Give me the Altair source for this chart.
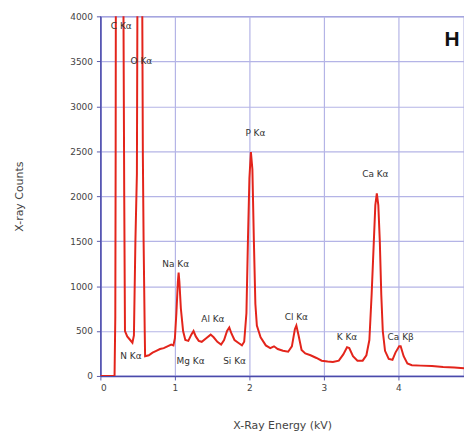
import altair as alt
import pandas as pd

# Spectrum trace (energy in kV, counts)
energy = [0.0, 0.18, 0.19, 0.2, 0.205, 0.21, 0.24, 0.30, 0.32, 0.33, 0.36, 0.40, 0.43, 0.45, 0.47,
          0.49, 0.50, 0.53, 0.56, 0.57, 0.58, 0.595, 0.6, 0.65, 0.7, 0.75, 0.8, 0.85, 0.9, 0.95,
          0.98, 1.0, 1.02, 1.04, 1.05, 1.06, 1.08, 1.11, 1.14, 1.18, 1.22, 1.25, 1.28, 1.32, 1.36,
          1.42, 1.48, 1.52, 1.57, 1.62, 1.66, 1.70, 1.73, 1.76, 1.80, 1.85, 1.9, 1.93, 1.96, 1.98,
          2.0, 2.02, 2.04, 2.06, 2.08, 2.1, 2.15, 2.22, 2.28, 2.33, 2.38, 2.45, 2.52, 2.57, 2.61,
          2.63, 2.66, 2.70, 2.75, 2.82, 2.9, 2.97, 3.05, 3.12, 3.2, 3.26, 3.31, 3.34, 3.39, 3.45,
          3.52, 3.57, 3.61, 3.64, 3.67, 3.69, 3.71, 3.73, 3.75, 3.77, 3.79, 3.82, 3.87, 3.92, 3.96,
          4.01, 4.03, 4.07, 4.12, 4.18, 4.3, 4.45, 4.6, 4.75, 4.88]
counts = [0, 0, 0, 650, 2500, 6000, 9000, 6000, 2000, 500, 440, 400, 370, 450, 1500,
          2250, 5000, 9000, 4500, 2450, 1500, 500, 220, 230, 260, 280, 300, 310, 330, 350,
          340, 420, 700, 1050, 1150, 1050, 750, 500, 400, 390, 460, 500, 440, 390, 380,
          420, 460, 430, 380, 350, 400, 500, 540, 470, 400, 370, 340, 380, 700, 1500,
          2200, 2490, 2300, 1500, 800, 560, 430, 340, 310, 330, 300, 280, 270, 330, 520,
          560, 450, 290, 250, 230, 200, 170, 160, 155, 170, 240, 320, 310, 220, 170,
          170, 230, 400, 900, 1500, 1900, 2030, 1900, 1500, 900, 500, 280, 190, 180, 260,
          330, 330, 220, 140, 120, 115, 110, 100, 95, 85]

# Peak labels
label_text = ["C Kα", "O Kα", "P Kα", "Ca Kα", "Na Kα", "Al Kα", "N Kα", "Mg Kα",
              "Si Kα", "Cl Kα", "K Kα", "Ca Kβ"]
label_x = [0.28, 0.55, 2.08, 3.69, 1.01, 1.51, 0.41, 1.21, 1.80, 2.63, 3.31, 4.03]
label_y = [3890, 3500, 2700, 2250, 1240, 630, 220, 165, 165, 660, 430, 430]

panel_letter = ["H"]
panel_x = [4.72]
panel_y = [3740]

spec = pd.DataFrame({"energy": energy, "counts": counts})
labels = pd.DataFrame({"text": label_text, "x": label_x, "y": label_y})
panel = pd.DataFrame({"text": panel_letter, "x": panel_x, "y": panel_y})

xscale = alt.Scale(domain=[0, 4.88], nice=False, zero=False)
yscale = alt.Scale(domain=[0, 4000], nice=False)

line = alt.Chart(spec).mark_line(color="#e3241b", strokeWidth=2, clip=True).encode(
    x=alt.X("energy:Q", scale=xscale,
            axis=alt.Axis(title="X-Ray Energy (kV)", values=[0, 1, 2, 3, 4], format="d",
                          titleY=50, titleBaseline="middle", titleX=183)),
    y=alt.Y("counts:Q", scale=yscale,
            axis=alt.Axis(title="X-ray Counts", values=list(range(0, 4001, 500)), format="d",
                          titleX=-81, titleY=181, titleBaseline="middle")),
)

txt = alt.Chart(labels).mark_text(fontSize=9, color="#333333", font="DejaVu Sans").encode(
    x=alt.X("x:Q", scale=xscale), y=alt.Y("y:Q", scale=yscale), text="text:N"
)

letter = alt.Chart(panel).mark_text(fontSize=21, fontWeight="bold", color="#111111",
                                    font="Liberation Sans").encode(
    x=alt.X("x:Q", scale=xscale), y=alt.Y("y:Q", scale=yscale), text="text:N"
)

chart = alt.layer(line, txt, letter).properties(
    width=366, height=362,
    autosize=alt.AutoSizeParams(type="none"),
    padding={"left": 93, "top": 7, "right": 0, "bottom": 54},
).configure_view(stroke="#7a7acc", strokeWidth=1.2).configure_axis(
    gridColor="#b4b4e6", gridWidth=1.2, domainColor="#4a4aaa", domainWidth=1.5,
    tickColor="#5a5aaa", tickSize=4, labelFont="DejaVu Sans", labelFontSize=9,
    labelColor="#444444", titleFont="DejaVu Sans", titleFontSize=11,
    titleFontWeight="normal", titleColor="#444444", labelPadding=4
)

chart.save("out.html", embed_options={"renderer": "svg", "actions": False})
